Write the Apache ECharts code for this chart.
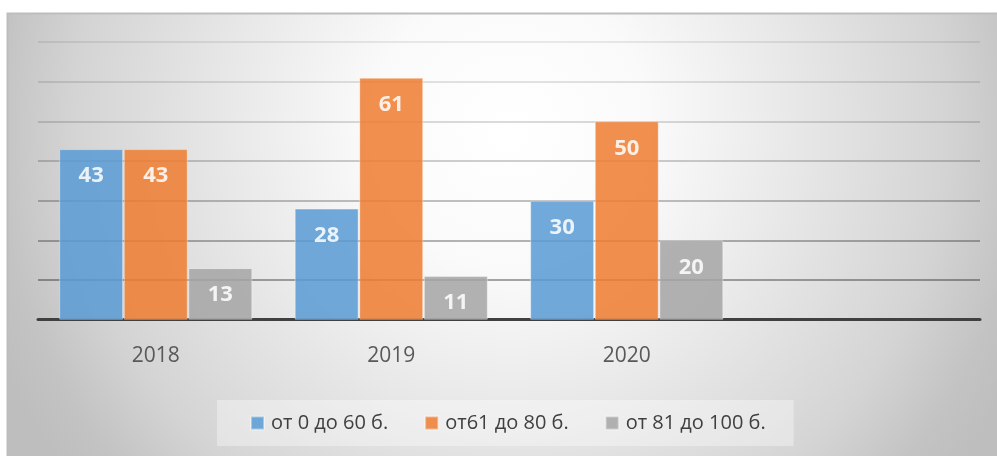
<!DOCTYPE html>
<html>
<head>
<meta charset="utf-8">
<script src="https://cdn.jsdelivr.net/npm/echarts@6/dist/echarts.min.js"></script>
<style>
html,body{margin:0;padding:0;background:#fff;}
#c{width:997px;height:456px;}
</style>
</head>
<body>
<div id="c"></div>
<script>
const categories = ['2018', '2019', '2020', ''];
const seriesNames = ['от 0 до 60 б.', 'от61 до 80 б.', 'от 81 до 100 б.'];
const low = [43, 28, 30, null];
const mid = [43, 61, 50, null];
const high = [13, 11, 20, null];
const yTicks = [0, 10, 20, 30, 40, 50, 60, 70];

const FONT = '"Open Sans", "DejaVu Sans", sans-serif';
const colors = ['#5b9bd5', '#ed7d31', '#a5a5a5'];
const values = [low, mid, high];

const chart = echarts.init(document.getElementById('c'), null, {renderer: 'canvas'});

const series = values.map((v, i) => ({
  name: seriesNames[i],
  type: 'bar',
  data: v,
  barGap: '1%',
  barCategoryGap: '18%',
  itemStyle: {
    color: colors[i],
    opacity: 0.86,
    borderColor: 'rgba(255,255,255,0.45)',
    borderWidth: 1
  },
  label: {
    show: true,
    position: 'insideTop',
    distance: 15,
    color: '#ffffff',
    fontFamily: FONT,
    fontWeight: 'bold',
    fontSize: 22,
    lineHeight: 24
  },
  emphasis: {disabled: true}
}));

chart.setOption({
  animation: false,
  backgroundColor: '#ffffff',
  color: colors,
  graphic: [{
    type: 'rect',
    z: -10,
    silent: true,
    shape: {x: 7.5, y: 13.5, width: 1000, height: 450},
    style: {
      fill: new echarts.graphic.RadialGradient(510, 130, 560, [
        {offset: 0, color: '#ffffff'},
        {offset: 0.25, color: '#fafafa'},
        {offset: 0.48, color: '#eaeaea'},
        {offset: 0.78, color: '#d4d4d4'},
        {offset: 0.92, color: '#c3c3c3'},
        {offset: 1, color: '#bebebe'}
      ], true),
      stroke: '#bdbdbd',
      lineWidth: 2
    }
  }],
  grid: {left: 38, right: 17, top: 42, height: 277.7, containLabel: false},
  legend: {
    data: seriesNames,
    left: 217,
    top: 400,
    padding: [13, 28, 13, 33],
    itemGap: 36,
    itemWidth: 13,
    itemHeight: 13,
    icon: 'rect',
    backgroundColor: 'rgba(255,255,255,0.35)',
    textStyle: {color: '#404040', fontFamily: FONT, fontSize: 20, lineHeight: 20, padding: [0, 0, 0, 2]}
  },
  xAxis: {
    type: 'category',
    data: categories,
    axisLine: {show: true, lineStyle: {color: '#404040', width: 3}},
    axisTick: {show: false},
    axisLabel: {color: '#595959', fontFamily: FONT, fontSize: 21, margin: 26},
    splitLine: {show: false}
  },
  yAxis: {
    type: 'value',
    min: yTicks[0],
    max: yTicks[yTicks.length - 1],
    interval: 10,
    axisLine: {show: false},
    axisTick: {show: false},
    axisLabel: {show: false},
    splitLine: {
      show: true,
      lineStyle: {
        width: 2,
        color: ['rgba(0,0,0,0)', 'rgba(0,0,0,0.34)', 'rgba(0,0,0,0.29)', 'rgba(0,0,0,0.24)',
                'rgba(0,0,0,0.19)', 'rgba(0,0,0,0.14)', 'rgba(0,0,0,0.11)', 'rgba(0,0,0,0.08)']
      }
    }
  },
  series: series
});
</script>
</body>
</html>
